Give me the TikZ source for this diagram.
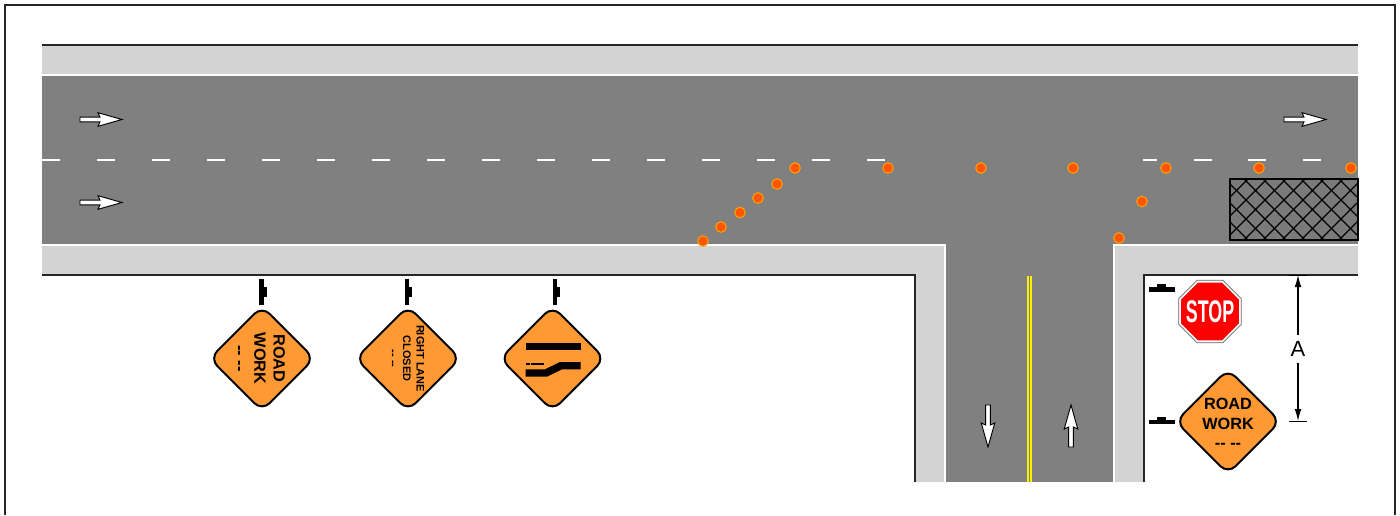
\documentclass[tikz,border=0pt]{standalone}
\usepackage{fontspec}
\setmainfont{Liberation Sans}
\usetikzlibrary{arrows.meta, positioning, shapes.geometric}
\definecolor{shoulder}{HTML}{D3D3D3}
\definecolor{pavement}{HTML}{808080}
\definecolor{signorange}{HTML}{FF9933}
\definecolor{conered}{HTML}{FF5500}
\definecolor{coneedge}{HTML}{FFA000}

\begin{document}
\begin{tikzpicture}[
    x=0.75pt, y=-0.75pt,
    >={Latex[length=9pt,width=5pt]},
    edgeblack/.style={draw=black!85, line width=1.1pt},
    edgewhite/.style={draw=white, line width=1.1pt},
    dashmark/.style={draw=white, line width=1.2pt},
    arrowmark/.style={draw=black, fill=white, line width=0.7pt, line join=miter},
    conemark/.style={circle, draw=coneedge, fill=conered, line width=0.8pt,
                     minimum size=7.9pt, inner sep=0pt},
    signbody/.style={diamond, draw=black, fill=signorange, line width=1.5pt,
                     rounded corners=8pt, minimum size=79pt, inner sep=0pt},
    signtext/.style={align=center, text=black, inner sep=0pt},
    bigtext/.style={signtext, font=\fontsize{12.2}{14.5}\selectfont\bfseries},
    smalltext/.style={signtext, font=\fontsize{8.2}{10}\selectfont\bfseries},
    stopshape/.style={regular polygon, regular polygon sides=8, inner sep=0pt}
  ]
  \useasboundingbox (0,0) rectangle (1400,515);

  % Frame
  \draw[black!85, line width=1.1pt] (5,515) -- (5,5) -- (1395,5) -- (1395,515);

  % Shoulders and pavement
  \fill[shoulder] (42,45) rectangle (1358,75);
  \fill[shoulder] (42,245) -- (945,245) -- (945,482) -- (915,482) -- (915,275) -- (42,275) -- cycle;
  \fill[shoulder] (1358,245) -- (1114,245) -- (1114,482) -- (1144,482) -- (1144,275) -- (1358,275) -- cycle;
  \fill[pavement] (42,75) rectangle (1358,245);
  \fill[pavement] (945,245) rectangle (1114,482);

  % Edge lines
  \draw[edgeblack] (42,45) -- (1358,45);
  \draw[edgeblack] (42,275) -- (915,275) -- (915,482);
  \draw[edgeblack] (1358,275) -- (1144,275) -- (1144,482);
  \draw[edgewhite] (42,75) -- (1358,75);
  \draw[edgewhite] (42,245) -- (945,245) -- (945,482);
  \draw[edgewhite] (1358,245) -- (1114,245) -- (1114,482);

  % Lane dashes
  \foreach \x in {42,97,152,207,262,317,372,427,482,537,592,647,702,757,812,867,1194,1248,1303} {
    \draw[dashmark] (\x,160) -- (\x+18,160);
  }
  \draw[dashmark] (1143,160) -- (1157,160);

  % Double yellow
  \foreach \x in {1026.6,1030.4} {
    \fill[yellow] (\x,276) rectangle (\x+2,482);
  }

  % Closed area
  \fill[pavement!95!black] (1230,179) rectangle (1358,240);
  \begin{scope}
    \clip (1230,179) rectangle (1358,240);
    \foreach \x in {1130,1149,...,1360} {
      \draw[black, line width=0.9pt] (\x,179) -- (\x+61,240);
      \draw[black, line width=0.9pt] (\x+61,179) -- (\x,240);
    }
  \end{scope}
  \draw[black, line width=0.8pt] (1230,179) rectangle (1358,240);

  % Direction arrows
  \foreach \x/\y/\a in {80/119.5/0, 80/202.5/0, 1284/119.5/0, 988/405/-90, 1071/447/90} {
    \draw[arrowmark, shift={(\x,\y)}, rotate=\a]
      (0,-2.4) -- (20,-2.4) -- (18,-6.8) -- (42,0) -- (18,6.8) -- (20,2.4) -- (0,2.4) -- cycle;
  }

  % Cones
  \foreach \i/\x/\y in {1/703/241, 2/721/227, 3/740/212.5, 4/758/198, 5/777/184, 6/795/168,
                        7/888/168, 8/981/168, 9/1073/168, 10/1166/168, 11/1259/168,
                        12/1351/168, 13/1119/238, 14/1142/201.5} {
    \node[conemark] (cone\i) at (\x,\y) {};
  }

  % Sign supports
  \foreach \x in {259,404.5,552.5} {
    \fill[black] (\x,279) rectangle +(4.5,25.5);
    \fill[black] (\x+4.5,287) rectangle +(3,10);
  }
  \foreach \y in {287.3,419.7} {
    \fill[black] (1149,\y) rectangle +(26,4.6);
    \fill[black] (1157,\y-3.2) rectangle +(9,3.2);
  }

  % Advance signs
  \node[signbody] (roadwork) at (262,358.5) {};
  \node[bigtext, rotate=-90] (roadworktext) at (260,358.5) {ROAD\\WORK\\-{}- -{}-};
  \node[signbody] (laneclosed) at (408,358.5) {};
  \node[smalltext, rotate=-90] (laneclosedtext) at (407,358.5) {RIGHT LANE\\CLOSED\\-{}- -{}-};
  \node[signbody] (lanesign) at (552.5,358.5) {};
  \node[signbody] (sideroadwork) at (1228,421.5) {};
  \node[bigtext] (sideroadworktext) at (1228,423.5) {ROAD\\WORK\\-{}- -{}-};

  % Lane shift symbol
  \fill[black] (525.7,342.7) rectangle (580.7,350);
  \fill[black] (580.5,362) -- (560,362) -- (545,369.3) -- (525.5,369.3) -- (525.5,376.7)
    -- (547,376.7) -- (562,369.3) -- (580.5,369.3) -- cycle;
  \fill[black] (526,363.4) rectangle (529.5,365.4);
  \fill[black] (531,363.4) rectangle (543.5,365.4);

  % Stop sign
  \node[stopshape, draw=black!60, fill=white, line width=0.5pt, minimum size=50.7pt] (stopedge) at (1210,311.5) {};
  \node[stopshape, fill=red, minimum size=47pt] (stopsign) at (1210,311.5) {};
  \node[text=white, inner sep=0pt, font=\fontsize{23.5}{24}\selectfont\bfseries] (stoptext) at (1210,312)
    {\scalebox{0.57}[1]{STOP}};

  % Distance A
  \node[font=\fontsize{16.5}{18}\selectfont, minimum height=21pt, inner sep=0pt] (dimA) at (1298,349) {A};
  \coordinate (dimtop) at (1298,275);
  \coordinate (dimbot) at (1298,421);
  \draw[black, line width=0.7pt] (1289,275) -- (1307,275);
  \draw[black, line width=0.7pt] (1289,421) -- (1307,421);
  \draw[->, line width=0.8pt] (dimA) -- (dimtop);
  \draw[->, line width=0.8pt] (dimA) -- (dimbot);
\end{tikzpicture}
\end{document}
